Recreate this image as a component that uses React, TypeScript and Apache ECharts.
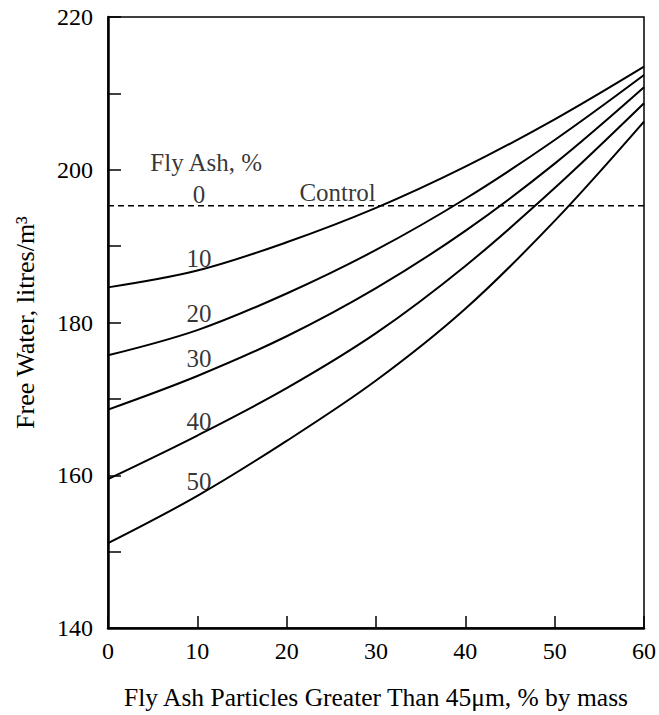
import React, { useEffect, useRef } from "react";
import * as echarts from "echarts";

const xValues = [0, 10, 20, 30, 40, 50, 60];
const flyAsh10 = [184.6, 186.8, 190.5, 195.0, 200.4, 206.6, 213.5];
const flyAsh20 = [175.7, 179.0, 183.8, 189.5, 196.2, 203.9, 212.4];
const flyAsh30 = [168.6, 173.0, 178.2, 184.5, 192.0, 200.8, 210.8];
const flyAsh40 = [159.5, 165.2, 171.4, 178.6, 187.4, 197.6, 208.7];
const flyAsh50 = [151.1, 157.3, 164.5, 172.4, 181.8, 193.3, 206.3];
const controlValue = 195.3;

const curveNames = ["10", "20", "30", "40", "50"];
const curves = [flyAsh10, flyAsh20, flyAsh30, flyAsh40, flyAsh50];

// annotation texts and their anchor points in data coordinates
const annotationTexts = ["Fly Ash, %", "0", "Control", "10", "20", "30", "40", "50"];
const annotationX = [11.0, 10.2, 25.7, 10.2, 10.2, 10.2, 10.2, 10.2];
const annotationY = [201.0, 196.7, 197.0, 188.4, 181.2, 175.3, 167.1, 159.2];

const FONT = "Liberation Serif";

export default function App() {
  const ref = useRef<HTMLDivElement>(null);
  useEffect(() => {
    if (!ref.current) return;
    const chart = echarts.init(ref.current, null, { renderer: "svg" });
    const lineSeries = curves.map((vals, i) => ({
      name: curveNames[i],
      type: "line",
      data: xValues.map((x, j) => [x, vals[j]]),
      smooth: 0.35,
      symbol: "none",
      lineStyle: { color: "#000", width: 2 },
      silent: true,
    }));
    const option = {
      animation: false,
      backgroundColor: "#fff",
      grid: {
        left: 108,
        right: 14,
        top: 17,
        bottom: 85,
        show: true,
        borderColor: "#000",
        borderWidth: 1.5,
      },
      xAxis: {
        type: "value",
        min: 0,
        max: 60,
        interval: 10,
        axisLine: { show: true, lineStyle: { color: "#000", width: 2.5 } },
        axisTick: { show: true, inside: true, length: 12, lineStyle: { color: "#000", width: 1.5 } },
        axisLabel: { color: "#000", fontSize: 24, fontFamily: FONT, margin: 11 },
        splitLine: { show: false },
        name: "Fly Ash Particles Greater Than 45\u03bcm, % by mass",
        nameLocation: "middle",
        nameGap: 56,
        nameTextStyle: { color: "#000", fontSize: 25.5, fontFamily: FONT },
      },
      yAxis: {
        type: "value",
        min: 140,
        max: 220,
        interval: 10,
        axisLine: { show: true, lineStyle: { color: "#000", width: 2.5 } },
        axisTick: { show: true, inside: true, length: 13, lineStyle: { color: "#000", width: 1.5 } },
        axisLabel: {
          color: "#000",
          fontSize: 24,
          fontFamily: FONT,
          margin: 15,
          formatter: (v: number) => (v % 20 === 0 ? String(v) : ""),
        },
        splitLine: { show: false },
        name: "Free Water, litres/m\u00b3",
        nameLocation: "middle",
        nameGap: 70,
        nameTextStyle: { color: "#000", fontSize: 26, fontFamily: FONT },
      },
      series: [
        ...lineSeries,
        {
          name: "Control",
          type: "line",
          data: [
            [xValues[0], controlValue],
            [xValues[xValues.length - 1], controlValue],
          ],
          symbol: "none",
          lineStyle: { color: "#000", width: 1.5, type: [6, 4] },
          silent: true,
        },
        {
          name: "annotations",
          type: "scatter",
          symbolSize: 0,
          silent: true,
          z: 5,
          data: annotationTexts.map((t, i) => ({
            value: [annotationX[i], annotationY[i]],
            label: {
              show: true,
              position: "inside",
              formatter: t,
              color: "#000",
              textBorderWidth: 0,
              textBorderColor: "transparent",
              fontSize: 25,
              fontFamily: FONT,
            },
          })),
        },
      ],
    };
    chart.setOption(option as any);
    return () => chart.dispose();
  }, []);
  return (
    <div
      ref={ref}
      style={{ position: "fixed", left: 0, top: 0, width: 659, height: 715, background: "#fff" }}
    />
  );
}
